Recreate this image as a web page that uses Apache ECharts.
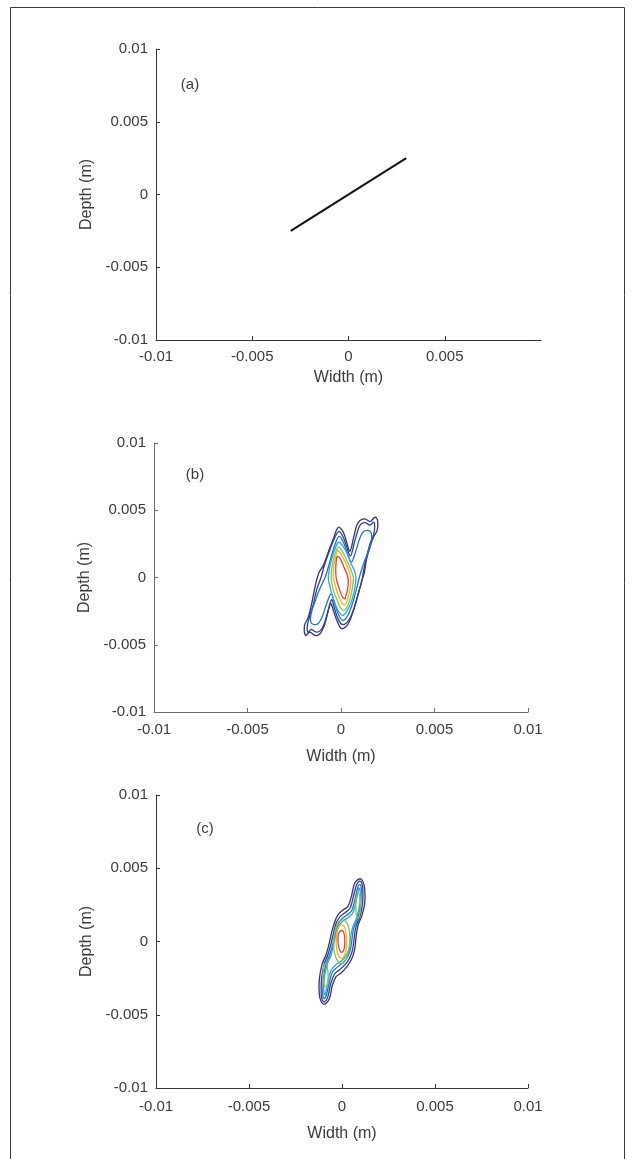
<!DOCTYPE html>
<html>
<head>
<meta charset="utf-8">
<script src="https://cdn.jsdelivr.net/npm/echarts@6/dist/echarts.min.js"></script>
<style>
html,body{margin:0;padding:0;background:#fff;}
#chart{width:635px;height:1159px;}
</style>
</head>
<body>
<div id="chart"></div>
<script>
// ---------- data (coordinates of contour vertices in millimetres) ----------
const panelLabels = ['(a)', '(b)', '(c)'];
const tickValues = [-0.01, -0.005, 0, 0.005, 0.01];
const tickLabels = ['-0.01', '-0.005', '0', '0.005', '0.01'];
const panelAXTicks = [-0.01, -0.005, 0, 0.005];
const xAxisName = 'Width (m)';
const yAxisName = 'Depth (m)';

// panel (a): straight line (metres)
const lineA = [[-0.003, -0.0025], [0.003, 0.0025]];

// panel (b) contour levels, outermost to innermost (mm)
const contourB1 = [[-0.14,3.74],[0.12,3.37],[0.30,2.62],[0.48,1.95],[0.66,2.88],[0.84,3.86],[1.01,4.23],[1.28,4.36],[1.55,4.16],[1.82,4.48],[1.96,4.23],[1.93,3.49],[1.73,2.99],[1.55,2.25],[1.37,1.39],[1.25,0.39],[1.12,-0.22],[0.92,-1.21],[0.66,-2.45],[0.39,-3.44],[0.04,-3.81],[-0.22,-3.2],[-0.4,-2.5],[-0.55,-1.95],[-0.72,-2.7],[-0.9,-3.6],[-1.12,-4.18],[-1.39,-4.31],[-1.66,-4.06],[-1.89,-4.31],[-1.95,-3.57],[-1.75,-2.95],[-1.57,-1.96],[-1.39,-0.72],[-1.2,0.3],[-0.95,0.89],[-0.68,1.88],[-0.41,2.88]];
const contourB2 = [[-0.12,3.42],[0.1,3.05],[0.28,2.4],[0.5,1.6],[0.7,2.5],[0.9,3.5],[1.05,3.95],[1.3,4.08],[1.55,3.9],[1.76,4.12],[1.8,3.8],[1.75,3.2],[1.55,2.5],[1.38,1.6],[1.22,0.6],[1.12,-0.2],[0.95,-1.1],[0.7,-2.3],[0.4,-3.2],[0.07,-3.49],[-0.18,-3.0],[-0.35,-2.3],[-0.5,-1.65],[-0.7,-2.5],[-0.9,-3.45],[-1.1,-3.95],[-1.35,-4.05],[-1.6,-3.85],[-1.76,-4.1],[-1.8,-3.6],[-1.68,-2.9],[-1.48,-2.0],[-1.3,-0.9],[-1.07,0.0],[-0.9,0.85],[-0.65,1.85],[-0.4,2.75]];
const contourB3 = [[-0.1,3.05],[0.1,2.7],[0.3,2.0],[0.55,1.15],[0.8,2.0],[1.0,2.9],[1.2,3.4],[1.45,3.5],[1.62,3.3],[1.62,2.7],[1.45,1.9],[1.2,1.0],[0.98,0.0],[0.82,-0.9],[0.6,-2.0],[0.35,-2.85],[0.09,-3.19],[-0.15,-2.7],[-0.35,-1.9],[-0.52,-1.2],[-0.78,-2.0],[-1.0,-2.9],[-1.2,-3.4],[-1.45,-3.5],[-1.62,-3.3],[-1.6,-2.7],[-1.42,-1.9],[-1.15,-0.9],[-0.85,0.0],[-0.65,0.9],[-0.45,1.9],[-0.28,2.6]];
const contourB4 = [[-0.12,2.62],[0.12,2.3],[0.35,1.7],[0.55,1.0],[0.72,0.5],[0.8,0.0],[0.75,-0.7],[0.6,-1.6],[0.4,-2.3],[0.12,-2.82],[-0.1,-2.6],[-0.3,-2.0],[-0.5,-1.2],[-0.62,-0.5],[-0.68,0.0],[-0.6,0.8],[-0.45,1.6],[-0.3,2.2]];
const contourB5 = [[-0.15,2.25],[0.05,2.0],[0.3,1.3],[0.55,0.5],[0.66,0.0],[0.62,-0.7],[0.5,-1.5],[0.35,-2.1],[0.18,-2.45],[0.0,-2.3],[-0.2,-1.7],[-0.4,-1.0],[-0.53,0.0],[-0.48,0.8],[-0.35,1.6]];
const contourB6 = [[-0.18,2.0],[0.0,1.75],[0.25,1.1],[0.45,0.4],[0.53,-0.2],[0.48,-0.9],[0.35,-1.6],[0.21,-2.05],[0.05,-1.9],[-0.15,-1.3],[-0.33,-0.5],[-0.41,0.0],[-0.4,0.7],[-0.3,1.4]];
const contourB7 = [[-0.2,1.56],[-0.05,1.4],[0.15,0.8],[0.33,0.2],[0.39,-0.3],[0.35,-0.9],[0.25,-1.4],[0.21,-1.58],[0.08,-1.45],[-0.1,-0.8],[-0.25,-0.1],[-0.28,0.4],[-0.27,1.0]];

// panel (c) contour levels (mm)
const contourC1 = [[0.95,4.28],[1.12,4.1],[1.22,3.6],[1.22,2.6],[1.05,1.7],[0.86,1.1],[0.76,0.35],[0.68,-0.55],[0.5,-1.25],[0.24,-1.75],[-0.05,-2.15],[-0.32,-2.4],[-0.52,-3.0],[-0.68,-3.9],[-0.95,-4.28],[-1.12,-4.1],[-1.22,-3.6],[-1.22,-2.6],[-1.08,-1.6],[-0.86,-0.9],[-0.7,-0.2],[-0.57,0.56],[-0.39,1.35],[-0.2,1.85],[0.05,2.15],[0.32,2.4],[0.5,3.06],[0.68,3.97]];
const contourC2 = [[0.95,4.12],[1.07,3.95],[1.12,3.5],[1.1,2.55],[0.95,1.65],[0.76,1.05],[0.66,0.3],[0.57,-0.55],[0.4,-1.15],[0.15,-1.6],[-0.15,-1.95],[-0.42,-2.25],[-0.62,-2.95],[-0.78,-3.85],[-0.95,-4.12],[-1.07,-3.95],[-1.12,-3.5],[-1.1,-2.55],[-0.97,-1.6],[-0.76,-0.9],[-0.6,-0.2],[-0.46,0.55],[-0.3,1.3],[-0.1,1.7],[0.15,1.95],[0.42,2.25],[0.6,3.0],[0.78,3.85]];
const contourC3 = [[0.95,3.9],[1.03,3.7],[1.03,3.3],[1.0,2.5],[0.85,1.6],[0.65,1.0],[0.55,0.3],[0.46,-0.5],[0.3,-1.05],[0.05,-1.45],[-0.25,-1.75],[-0.52,-2.1],[-0.7,-2.9],[-0.85,-3.7],[-0.95,-3.9],[-1.03,-3.7],[-1.03,-3.3],[-1.0,-2.5],[-0.87,-1.6],[-0.66,-0.9],[-0.5,-0.2],[-0.36,0.5],[-0.2,1.2],[0.0,1.55],[0.25,1.8],[0.52,2.1],[0.7,2.9],[0.85,3.7]];
const contourC4 = [[0.92,3.65],[0.98,3.4],[0.95,2.5],[0.78,1.6],[0.57,0.95],[0.46,0.3],[0.38,-0.5],[0.2,-1.0],[-0.05,-1.35],[-0.35,-1.6],[-0.6,-2.0],[-0.78,-2.9],[-0.88,-3.5],[-0.92,-3.65],[-0.98,-3.4],[-0.95,-2.5],[-0.8,-1.6],[-0.58,-0.9],[-0.45,-0.2],[-0.32,0.5],[-0.12,1.15],[0.1,1.45],[0.35,1.65],[0.6,2.0],[0.78,2.9],[0.88,3.5]];
const contourC5top = [[0.87,3.29],[0.97,3.0],[0.99,2.4],[0.95,1.85],[0.86,1.58],[0.77,1.85],[0.74,2.4],[0.76,3.0]];
const contourC5mid = [[0.0,1.47],[0.25,1.3],[0.4,0.7],[0.41,-0.1],[0.3,-0.9],[0.05,-1.5],[-0.2,-1.4],[-0.4,-0.8],[-0.45,0.0],[-0.35,0.8],[-0.2,1.3]];
const contourC5bot = [[-0.87,-3.1],[-0.77,-2.8],[-0.75,-2.2],[-0.8,-1.7],[-0.88,-1.5],[-0.98,-1.75],[-1.02,-2.3],[-0.98,-2.85]];
const contourC6 = [[-0.05,1.13],[0.15,0.95],[0.24,0.4],[0.24,-0.3],[0.15,-0.9],[0.0,-1.15],[-0.2,-0.95],[-0.3,-0.4],[-0.3,0.3],[-0.22,0.9]];
const contourC7 = [[-0.03,0.75],[0.1,0.6],[0.15,0.1],[0.13,-0.4],[0.05,-0.7],[-0.08,-0.7],[-0.18,-0.35],[-0.22,0.1],[-0.18,0.55]];

const levelColors = ['#36346c', '#2c3f8f', '#2373c1', '#2fa4dd', '#80c05f', '#f2b420', '#e5402d'];

// ---------- chart ----------
const MM = 0.001;
const TXT = '#3a3a3a';
const FONT = 'Liberation Sans, Arial, sans-serif';

const grids = [
  {left: 156, top: 49, width: 385, height: 291},
  {left: 154, top: 443, width: 374, height: 269},
  {left: 156, top: 795, width: 372, height: 293}
];
const axisColors = ['#3b332c', '#6f6a66', '#3b332c'];
const xNameGaps = [30, 37, 38];
const xLabelMargins = [9, 10, 11];

function contourSeries(pointsMM, color, gi) {
  const data = pointsMM.map(p => [p[0] * MM, p[1] * MM]);
  return {
    type: 'custom', xAxisIndex: gi, yAxisIndex: gi, silent: true, animation: false,
    data: data,
    renderItem: function (params, api) {
      if (params.dataIndex !== 0) return null;
      const pts = data.map(d => api.coord(d));
      return {
        type: 'polygon',
        shape: {points: pts, smooth: 0.35},
        style: {fill: 'none', stroke: color, lineWidth: 1.3}
      };
    }
  };
}

const xAxes = grids.map((g, i) => ({
  gridIndex: i, type: 'value', min: -0.01, max: 0.01,
  name: xAxisName, nameLocation: 'middle', nameGap: xNameGaps[i],
  nameTextStyle: {color: TXT, fontSize: 16, fontFamily: FONT},
  axisLine: {show: true, onZero: false, lineStyle: {color: axisColors[i], width: 1}},
  axisTick: {show: true, inside: true, length: 4, lineStyle: {color: axisColors[i]},
             customValues: i === 0 ? panelAXTicks : tickValues},
  axisLabel: {color: TXT, fontSize: 15, fontFamily: FONT, margin: xLabelMargins[i],
              customValues: i === 0 ? panelAXTicks : tickValues,
              formatter: v => tickLabels[tickValues.findIndex(t => Math.abs(t - v) < 1e-9)]},
  splitLine: {show: false}
}));
const yAxes = grids.map((g, i) => ({
  gridIndex: i, type: 'value', min: -0.01, max: 0.01,
  name: yAxisName, nameLocation: 'middle', nameGap: 55, nameRotate: 90,
  nameTextStyle: {color: TXT, fontSize: 16, fontFamily: FONT},
  axisLine: {show: true, onZero: false, lineStyle: {color: axisColors[i], width: 1}},
  axisTick: {show: true, inside: true, length: 4, lineStyle: {color: axisColors[i]}, customValues: tickValues},
  axisLabel: {color: TXT, fontSize: 15, fontFamily: FONT, margin: 8, customValues: tickValues,
              formatter: v => tickLabels[tickValues.findIndex(t => Math.abs(t - v) < 1e-9)]},
  splitLine: {show: false}
}));

const series = [];
series.push({
  type: 'line', xAxisIndex: 0, yAxisIndex: 0, data: lineA, showSymbol: false, silent: true,
  animation: false, lineStyle: {color: '#111', width: 2}
});
[contourB1, contourB2, contourB3, contourB4, contourB5, contourB6, contourB7].forEach((c, k) =>
  series.push(contourSeries(c, levelColors[k], 1)));
[[contourC1, 0], [contourC2, 1], [contourC3, 2], [contourC4, 3], [contourC5top, 4], [contourC5mid, 4],
 [contourC5bot, 4], [contourC6, 5], [contourC7, 6]].forEach(([c, k]) =>
  series.push(contourSeries(c, levelColors[k], 2)));

const labelPos = [[190, 85], [195, 475], [205, 829]];
const graphics = [
  {type: 'rect', shape: {x: 10.5, y: 7.5, width: 614, height: 1160},
   style: {fill: 'none', stroke: '#3a3a3a', lineWidth: 1}, silent: true}
];
panelLabels.forEach((t, i) => graphics.push({
  type: 'text', x: labelPos[i][0], y: labelPos[i][1],
  style: {text: t, fill: TXT, font: '15px ' + FONT, textAlign: 'center', textVerticalAlign: 'middle'},
  silent: true
}));

const chart = echarts.init(document.getElementById('chart'), null, {renderer: 'canvas'});
chart.setOption({
  backgroundColor: '#ffffff',
  animation: false,
  grid: grids.map(g => Object.assign({containLabel: false}, g)),
  xAxis: xAxes,
  yAxis: yAxes,
  series: series,
  graphic: graphics
});
</script>
</body>
</html>
